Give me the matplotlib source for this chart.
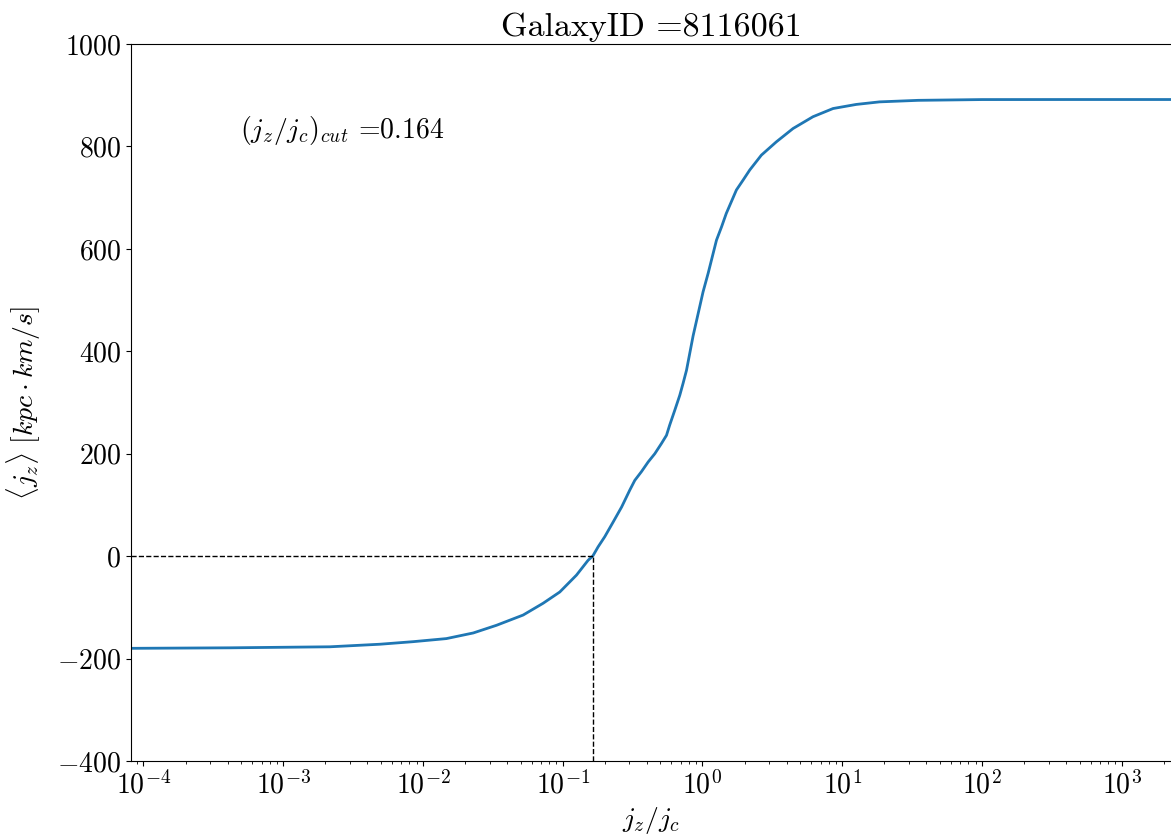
import numpy as np
import matplotlib
matplotlib.use("Agg")
import matplotlib.pyplot as plt

plt.rcParams["font.family"] = "serif"
plt.rcParams["font.serif"] = ["cmr10", "DejaVu Serif"]
plt.rcParams["mathtext.fontset"] = "cm"
plt.rcParams["axes.formatter.use_mathtext"] = True

# cumulative mean j_z vs circularity cut
jz_jc = [8.14e-5, 4.16e-4, 2.16e-3, 4.92e-3, 8.51e-3, 1.47e-2, 2.29e-2, 3.36e-2,
         5.21e-2, 7.24e-2, 9.53e-2, 0.1255, 0.152, 0.164, 0.179, 0.200, 0.230,
         0.264, 0.302, 0.328, 0.366, 0.409, 0.456, 0.509, 0.553, 0.583, 0.634,
         0.688, 0.726, 0.769, 0.857, 1.01, 1.10, 1.26, 1.37, 1.48, 1.75, 1.95,
         2.18, 2.64, 3.38, 4.45, 6.18, 8.6, 12.6, 18.5, 35.0, 100.0, 500.0,
         2254.0]
mean_jz = [-180, -179, -177, -172, -167, -161, -150, -135, -115, -92, -70, -37,
           -8, 0, 18, 38, 67, 96, 129, 148, 165, 184, 200, 220, 236, 256, 285,
           314, 337, 363, 430, 516, 553, 617, 643, 669, 715, 734, 754, 783, 809,
           835, 858, 874, 882, 887, 890, 891.5, 891.6, 891.6]
cut = 0.164
galaxy_id = 8116061

fig = plt.figure(figsize=(11.71, 8.35), dpi=100)
ax = fig.add_axes([131 / 1171, 74 / 835, 1040 / 1171, 717 / 835])

ax.plot(jz_jc, mean_jz, color="#1f77b4", linewidth=2.0)
ax.plot([jz_jc[0], cut], [0, 0], "k--", linewidth=1)
ax.plot([cut, cut], [-400, 0], "k--", linewidth=1)

ax.set_xscale("log")
ax.set_xlim(jz_jc[0], jz_jc[-1])
ax.set_ylim(-400, 1000)
ax.spines["right"].set_visible(False)

ax.text(0.105, 0.88, r"$(j_z/j_c)_{cut}$ =" + str(cut), transform=ax.transAxes,
        fontsize=20, ha="left", va="center")
ax.set_title("GalaxyID =" + str(galaxy_id), fontsize=24.5)
ax.set_xlabel(r"$j_z/j_c$", fontsize=20)
ax.set_ylabel(r"$\langle j_z \rangle\ [kpc \cdot km/s]$", fontsize=20, labelpad=10)
ax.tick_params(labelsize=20)

fig.savefig("out.png", dpi=100)
